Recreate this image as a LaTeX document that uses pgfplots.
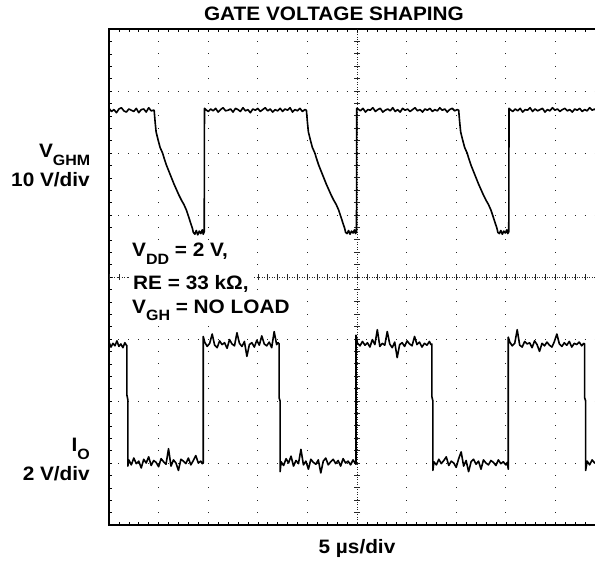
\documentclass[border=0pt]{standalone}
\usepackage{pgfplots}
\pgfplotsset{compat=1.18}
\usepackage{fontspec}
\setmainfont[FakeStretch=1.07]{Liberation Sans}
\usetikzlibrary{decorations.markings}
\newcommand\lab{\fontsize{19.5}{21}\selectfont\bfseries}
\newcommand\sub[1]{\raisebox{-7.5bp}{\fontsize{15}{16}\selectfont\bfseries #1}}
\begin{document}
\begin{tikzpicture}
\path[use as bounding box] (-109bp,-37bp) rectangle (486bp,525bp);
\begin{axis}[
  at={(0,0)}, anchor=south west,
  scale only axis, width=496bp, height=496bp,
  xmin=0, xmax=10, ymin=0, ymax=8,
  xtick={0,1,...,10}, ytick={0,1,...,8},
  minor x tick num=4, minor y tick num=4,
  xticklabels={}, yticklabels={},
  tick align=inside,
  major tick length=3bp, minor tick length=3bp,
  tick style={black, line width=0.6bp},
  axis line style={black, line width=1.1bp},
  grid=major,
  x grid style={black!85, line width=0.9bp, dash pattern=on 0.9bp off 11.5bp, dash phase=0.45bp},
  y grid style={black!85, line width=0.9bp, dash pattern=on 0.9bp off 9.02bp, dash phase=0.45bp},
  clip=true,
]
\draw[black!85, line width=0.6bp, dash pattern=on 0.8bp off 1.7bp] (axis cs:5,0) -- (axis cs:5,8);
\draw[black!85, line width=0.6bp, dash pattern=on 0.8bp off 1.7bp] (axis cs:0,4) -- (axis cs:10,4);
\path[decorate, decoration={markings, mark=between positions 0 and 1 step 12.4bp with {\draw[black!85, line width=0.6bp] (0,-3bp) -- (0,3bp);}}] (axis cs:5,0) -- (axis cs:5,8);
\path[decorate, decoration={markings, mark=between positions 0 and 1 step 9.92bp with {\draw[black!85, line width=0.6bp] (0,-3bp) -- (0,3bp);}}] (axis cs:0,4) -- (axis cs:10,4);
% V_GHM trace
\addplot[black, line width=1.6bp, line join=round] table {
0.00 6.72
0.05 6.67
0.10 6.70
0.15 6.65
0.20 6.71
0.25 6.73
0.30 6.68
0.35 6.66
0.40 6.71
0.45 6.69
0.50 6.67
0.55 6.72
0.60 6.65
0.65 6.70
0.70 6.71
0.75 6.66
0.80 6.73
0.85 6.68
0.90 6.69
0.91 6.69
0.93 6.50
0.95 6.34
0.99 6.21
1.03 6.09
1.08 6.00
1.11 5.92
1.16 5.80
1.21 5.70
1.26 5.60
1.31 5.50
1.36 5.41
1.41 5.32
1.46 5.24
1.51 5.17
1.56 5.08
1.61 4.96
1.65 4.86
1.68 4.79
1.70 4.72
1.73 4.69
1.76 4.75
1.79 4.68
1.82 4.74
1.85 4.70
1.88 4.76
1.90 4.69
1.92 4.73
1.925 6.72
1.95 6.70
2.00 6.67
2.05 6.71
2.10 6.68
2.15 6.72
2.20 6.66
2.25 6.70
2.30 6.73
2.35 6.68
2.40 6.69
2.45 6.71
2.50 6.66
2.55 6.72
2.60 6.70
2.65 6.67
2.70 6.73
2.75 6.68
2.80 6.70
2.85 6.65
2.90 6.71
2.95 6.69
3.00 6.72
3.05 6.67
3.10 6.70
3.15 6.73
3.20 6.68
3.25 6.71
3.30 6.66
3.35 6.70
3.40 6.68
3.45 6.72
3.50 6.67
3.55 6.71
3.60 6.69
3.65 6.73
3.70 6.66
3.75 6.70
3.80 6.68
3.85 6.72
3.90 6.67
3.95 6.70
3.98 6.69
4.00 6.50
4.02 6.34
4.06 6.21
4.10 6.09
4.15 6.00
4.18 5.92
4.23 5.80
4.28 5.70
4.33 5.60
4.38 5.50
4.43 5.41
4.48 5.32
4.53 5.24
4.58 5.17
4.63 5.08
4.68 4.96
4.72 4.86
4.75 4.79
4.77 4.72
4.80 4.70
4.83 4.75
4.86 4.69
4.89 4.74
4.92 4.71
4.95 4.76
4.97 4.70
4.99 4.73
4.995 6.72
5.02 6.71
5.07 6.68
5.12 6.72
5.17 6.66
5.22 6.70
5.27 6.69
5.32 6.73
5.37 6.67
5.42 6.70
5.47 6.72
5.52 6.66
5.57 6.69
5.62 6.71
5.67 6.68
5.72 6.73
5.77 6.67
5.82 6.70
5.87 6.66
5.92 6.72
5.97 6.69
6.02 6.71
6.07 6.67
6.12 6.70
6.17 6.73
6.22 6.68
6.27 6.70
6.32 6.66
6.37 6.71
6.42 6.69
6.47 6.72
6.52 6.67
6.57 6.70
6.62 6.68
6.67 6.73
6.72 6.69
6.77 6.71
6.82 6.66
6.87 6.70
6.92 6.72
6.97 6.68
7.02 6.70
7.05 6.69
7.07 6.50
7.09 6.34
7.13 6.21
7.17 6.09
7.22 6.00
7.25 5.92
7.30 5.80
7.35 5.70
7.40 5.60
7.45 5.50
7.50 5.41
7.55 5.32
7.60 5.24
7.65 5.17
7.70 5.08
7.75 4.96
7.79 4.86
7.82 4.79
7.84 4.72
7.87 4.70
7.90 4.75
7.93 4.69
7.96 4.74
7.99 4.71
8.02 4.76
8.04 4.70
8.06 4.73
8.065 6.72
8.09 6.70
8.14 6.67
8.19 6.71
8.24 6.68
8.29 6.72
8.34 6.66
8.39 6.70
8.44 6.69
8.49 6.73
8.54 6.67
8.59 6.71
8.64 6.68
8.69 6.70
8.74 6.72
8.79 6.66
8.84 6.70
8.89 6.68
8.94 6.73
8.99 6.69
9.04 6.71
9.09 6.67
9.14 6.70
9.19 6.72
9.24 6.68
9.29 6.70
9.34 6.66
9.39 6.71
9.44 6.69
9.49 6.72
9.54 6.67
9.59 6.70
9.64 6.68
9.69 6.73
9.74 6.69
9.79 6.71
9.84 6.67
9.89 6.70
9.94 6.68
9.99 6.71
};
% I_O trace
\addplot[black, line width=1.6bp, line join=round] table {
0.00 2.95
0.04 2.87
0.08 2.93
0.12 2.89
0.16 2.97
0.20 2.88
0.24 2.92
0.28 2.86
0.32 2.94
0.35 2.90
0.36 2.90
0.36 2.10
0.38 2.02
0.38 0.95
0.40 1.05
0.45 0.97
0.50 1.08
0.55 0.99
0.60 1.03
0.65 0.92
0.70 1.06
0.75 1.00
0.80 1.10
0.85 0.96
0.90 1.04
0.95 1.01
1.00 0.94
1.05 1.07
1.10 1.02
1.15 0.98
1.20 1.23
1.25 0.95
1.30 1.05
1.35 1.00
1.40 0.88
1.45 1.06
1.50 1.03
1.55 0.99
1.60 1.08
1.65 0.97
1.70 1.04
1.75 1.12
1.80 1.00
1.85 1.03
1.88 0.99
1.90 1.00
1.90 3.04
1.93 2.95
1.98 2.88
2.03 2.93
2.08 3.08
2.13 2.90
2.18 2.86
2.23 2.97
2.28 2.91
2.33 2.94
2.38 2.85
2.43 2.99
2.48 2.92
2.53 2.89
2.58 3.10
2.63 2.93
2.68 2.88
2.73 2.96
2.78 2.72
2.83 2.91
2.88 2.94
2.93 2.87
2.98 2.98
3.03 2.90
3.08 3.05
3.13 2.92
3.18 2.89
3.23 2.95
3.28 2.86
3.33 3.12
3.38 2.91
3.41 2.94
3.43 2.92
3.43 2.05
3.45 2.00
3.45 0.86
3.47 1.02
3.52 0.96
3.57 1.07
3.62 1.00
3.67 1.11
3.72 0.95
3.77 1.04
3.82 0.99
3.87 1.22
3.92 0.97
3.97 1.03
4.02 0.90
4.07 1.06
4.12 1.01
4.17 0.98
4.22 1.05
4.27 0.84
4.32 1.03
4.37 1.08
4.42 0.97
4.47 1.02
4.52 1.06
4.57 0.99
4.62 1.04
4.67 0.95
4.72 1.07
4.77 1.00
4.82 1.03
4.87 0.97
4.92 1.05
4.96 1.00
4.98 0.98
4.98 3.06
5.01 2.93
5.06 2.89
5.11 2.96
5.16 2.90
5.21 2.94
5.26 2.87
5.31 2.99
5.36 2.91
5.41 3.15
5.46 2.88
5.51 2.93
5.56 2.90
5.61 3.12
5.66 2.92
5.71 2.86
5.76 2.95
5.81 2.70
5.86 2.91
5.91 2.94
5.96 2.88
6.01 2.97
6.06 2.92
6.11 2.89
6.16 3.04
6.21 2.91
6.26 2.95
6.31 2.87
6.36 2.93
6.41 2.90
6.46 2.96
6.49 2.91
6.51 2.92
6.51 2.07
6.53 2.00
6.53 0.88
6.55 1.02
6.60 0.97
6.65 1.06
6.70 0.99
6.75 1.04
6.80 1.10
6.85 0.96
6.90 1.03
6.95 1.00
7.00 0.93
7.05 1.07
7.10 1.18
7.15 0.95
7.20 1.04
7.25 0.86
7.30 1.02
7.35 1.06
7.40 0.98
7.45 1.03
7.50 0.90
7.55 1.05
7.60 1.00
7.65 0.97
7.70 1.04
7.75 1.01
7.80 0.96
7.85 1.05
7.90 0.99
7.95 1.02
8.00 0.97
8.03 1.01
8.05 0.90
8.05 3.03
8.08 2.95
8.13 2.89
8.18 2.93
8.23 3.15
8.28 2.90
8.33 2.87
8.38 2.96
8.43 2.92
8.48 2.94
8.53 2.86
8.58 2.97
8.63 2.91
8.68 2.80
8.73 2.93
8.78 2.89
8.83 2.95
8.88 2.90
8.93 2.87
8.98 2.96
9.03 3.08
9.08 2.92
9.13 2.88
9.18 2.94
9.23 2.90
9.28 2.96
9.33 2.87
9.38 2.93
9.43 2.91
9.48 2.95
9.53 2.89
9.57 2.93
9.59 2.92
9.59 2.05
9.61 2.00
9.61 0.88
9.64 1.03
9.69 0.97
9.74 1.05
9.79 1.00
9.84 1.04
9.89 0.98
9.94 1.02
9.99 1.00
};
\end{axis}
% title and labels
\node[anchor=base, font=\lab] at (225bp,504.3bp) {GATE VOLTAGE SHAPING};
\node[anchor=base east, font=\lab, inner sep=0pt] at (-18.5bp,367bp) {V\sub{GHM}};
\node[anchor=base east, font=\lab, inner sep=0pt] at (-19bp,338.3bp) {10 V/div};
\node[anchor=base east, font=\lab, inner sep=0pt] at (-19bp,73.3bp) {I\sub{O}};
\node[anchor=base east, font=\lab, inner sep=0pt] at (-19bp,44.3bp) {2 V/div};
\node[anchor=base, font=\lab, inner sep=0pt] at (248bp,-28bp) {5 µs/div};
% annotation
\node[anchor=base west, font=\lab, fill=white, inner xsep=4bp, inner ysep=3bp] at (19bp,268.3bp) {V\sub{DD} = 2 V,};
\node[anchor=base west, font=\lab, fill=white, inner xsep=4bp, inner ysep=3bp] at (20bp,235bp) {RE = 33 kΩ,};
\node[anchor=base west, font=\lab, fill=white, inner xsep=4bp, inner ysep=3bp] at (19bp,211.7bp) {V\sub{GH} = NO LOAD};
\end{tikzpicture}
\end{document}
